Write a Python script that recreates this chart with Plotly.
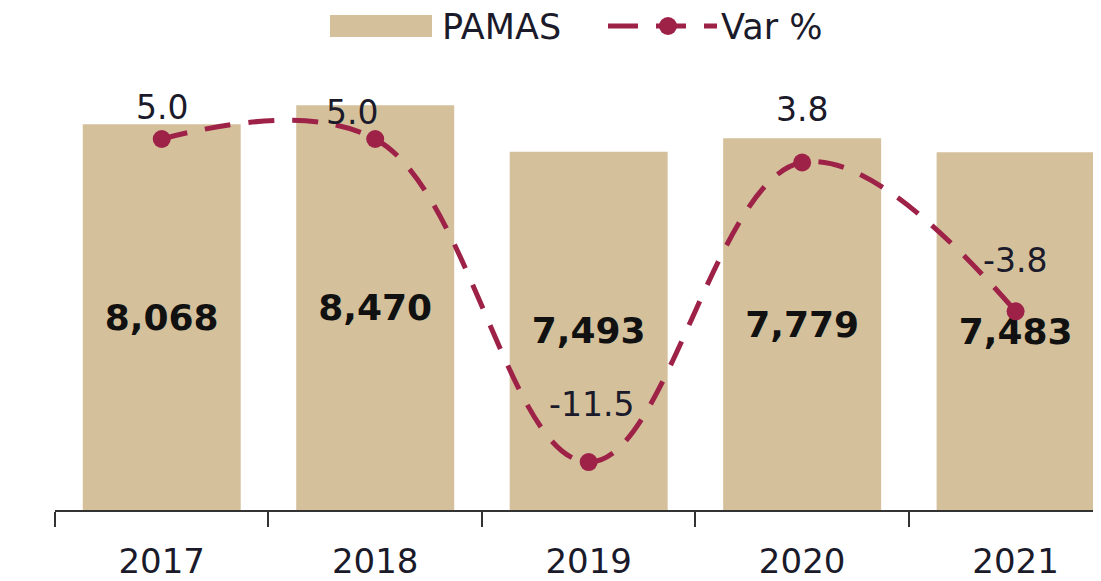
import plotly.graph_objects as go

years = ["2017", "2018", "2019", "2020", "2021"]
pamas = [8068, 8470, 7493, 7779, 7483]
var_pct = [5.0, 5.0, -11.5, 3.8, -3.8]
var_labels = ["5.0", "5.0", "-11.5", "3.8", "-3.8"]

# label offsets (pixels) for the line labels
lab_xshift = [0, -23, 3, 0, -1]
lab_yshift = [32, 27, 58, 53, 51]

BAR = "#D4C19C"
LINE = "#9E2248"
FONT = "DejaVu Sans"
TXT = "#1a1a2a"

OFF = 8  # page body margin
# plot area in page pixels
L, R, T, B = 55, 1101, 60, 510
W, H = R - L, B - T


def px(x):
    return (x - L) / W


def py(y):
    return (B - y) / H


fig = go.Figure()
fig.add_trace(go.Bar(
    x=years, y=pamas, width=0.74, marker=dict(color=BAR, line=dict(width=0)),
    texttemplate="%{y:,}", textposition="inside", insidetextanchor="middle",
    textfont=dict(family=FONT, size=36, color="#111111", weight="bold"),
    showlegend=False, yaxis="y",
))
fig.add_trace(go.Scatter(
    x=years, y=var_pct, mode="lines+markers", yaxis="y2",
    line=dict(color=LINE, width=5, dash="26px,18px", shape="spline", smoothing=1.1),
    marker=dict(color=LINE, size=18),
    showlegend=False,
))

annotations = []
for i, (v, t) in enumerate(zip(var_pct, var_labels)):
    annotations.append(dict(
        x=i, y=v, xref="x", yref="y2", text=t, showarrow=False,
        xshift=lab_xshift[i], yshift=lab_yshift[i],
        font=dict(family=FONT, size=33, color=TXT),
        xanchor="center", yanchor="middle",
    ))

# custom legend
annotations.append(dict(x=px(441), y=py(27), xref="paper", yref="paper", text="PAMAS",
                        showarrow=False, xanchor="left", yanchor="middle", borderpad=0,
                        font=dict(family=FONT, size=35, color=TXT)))
annotations.append(dict(x=px(720), y=py(27), xref="paper", yref="paper", text="Var %",
                        showarrow=False, xanchor="left", yanchor="middle", borderpad=0,
                        font=dict(family=FONT, size=35, color=TXT)))

shapes = [
    dict(type="rect", xref="paper", yref="paper", x0=px(330), x1=px(432), y0=py(37), y1=py(15),
         fillcolor=BAR, line=dict(width=0)),
    dict(type="line", xref="paper", yref="paper", x0=px(608), x1=px(717), y0=py(26), y1=py(26),
         line=dict(color=LINE, width=5, dash="30px,18px")),
    dict(type="circle", xref="paper", yref="paper", x0=px(659), x1=px(677), y0=py(35), y1=py(17),
         fillcolor=LINE, line=dict(width=0)),
]

hidden = dict(showgrid=False, zeroline=False, showline=False, showticklabels=False, ticks="")

fig.update_layout(
    width=1101, height=581,
    margin=dict(l=L - OFF, r=1101 - (L - OFF) - W, t=T - OFF, b=581 - (B - OFF), autoexpand=False),
    paper_bgcolor="white", plot_bgcolor="white",
    showlegend=False,
    xaxis=dict(type="category", range=[-0.5, 4.4], showline=True, linecolor="#333333", linewidth=2,
               ticks="outside", tickson="boundaries", ticklen=15, tickwidth=2, tickcolor="#333333",
               ticklabelstandoff=20,
               tickfont=dict(family=FONT, size=34, color=TXT), showgrid=False, zeroline=False),
    yaxis=dict(range=[0, H / 0.0478], **hidden),
    yaxis2=dict(range=[-(B - 236.9) / 19.58, (236.9 - T) / 19.58], overlaying="y", **hidden),
    annotations=annotations, shapes=shapes,
)

fig.write_html("out.html")
